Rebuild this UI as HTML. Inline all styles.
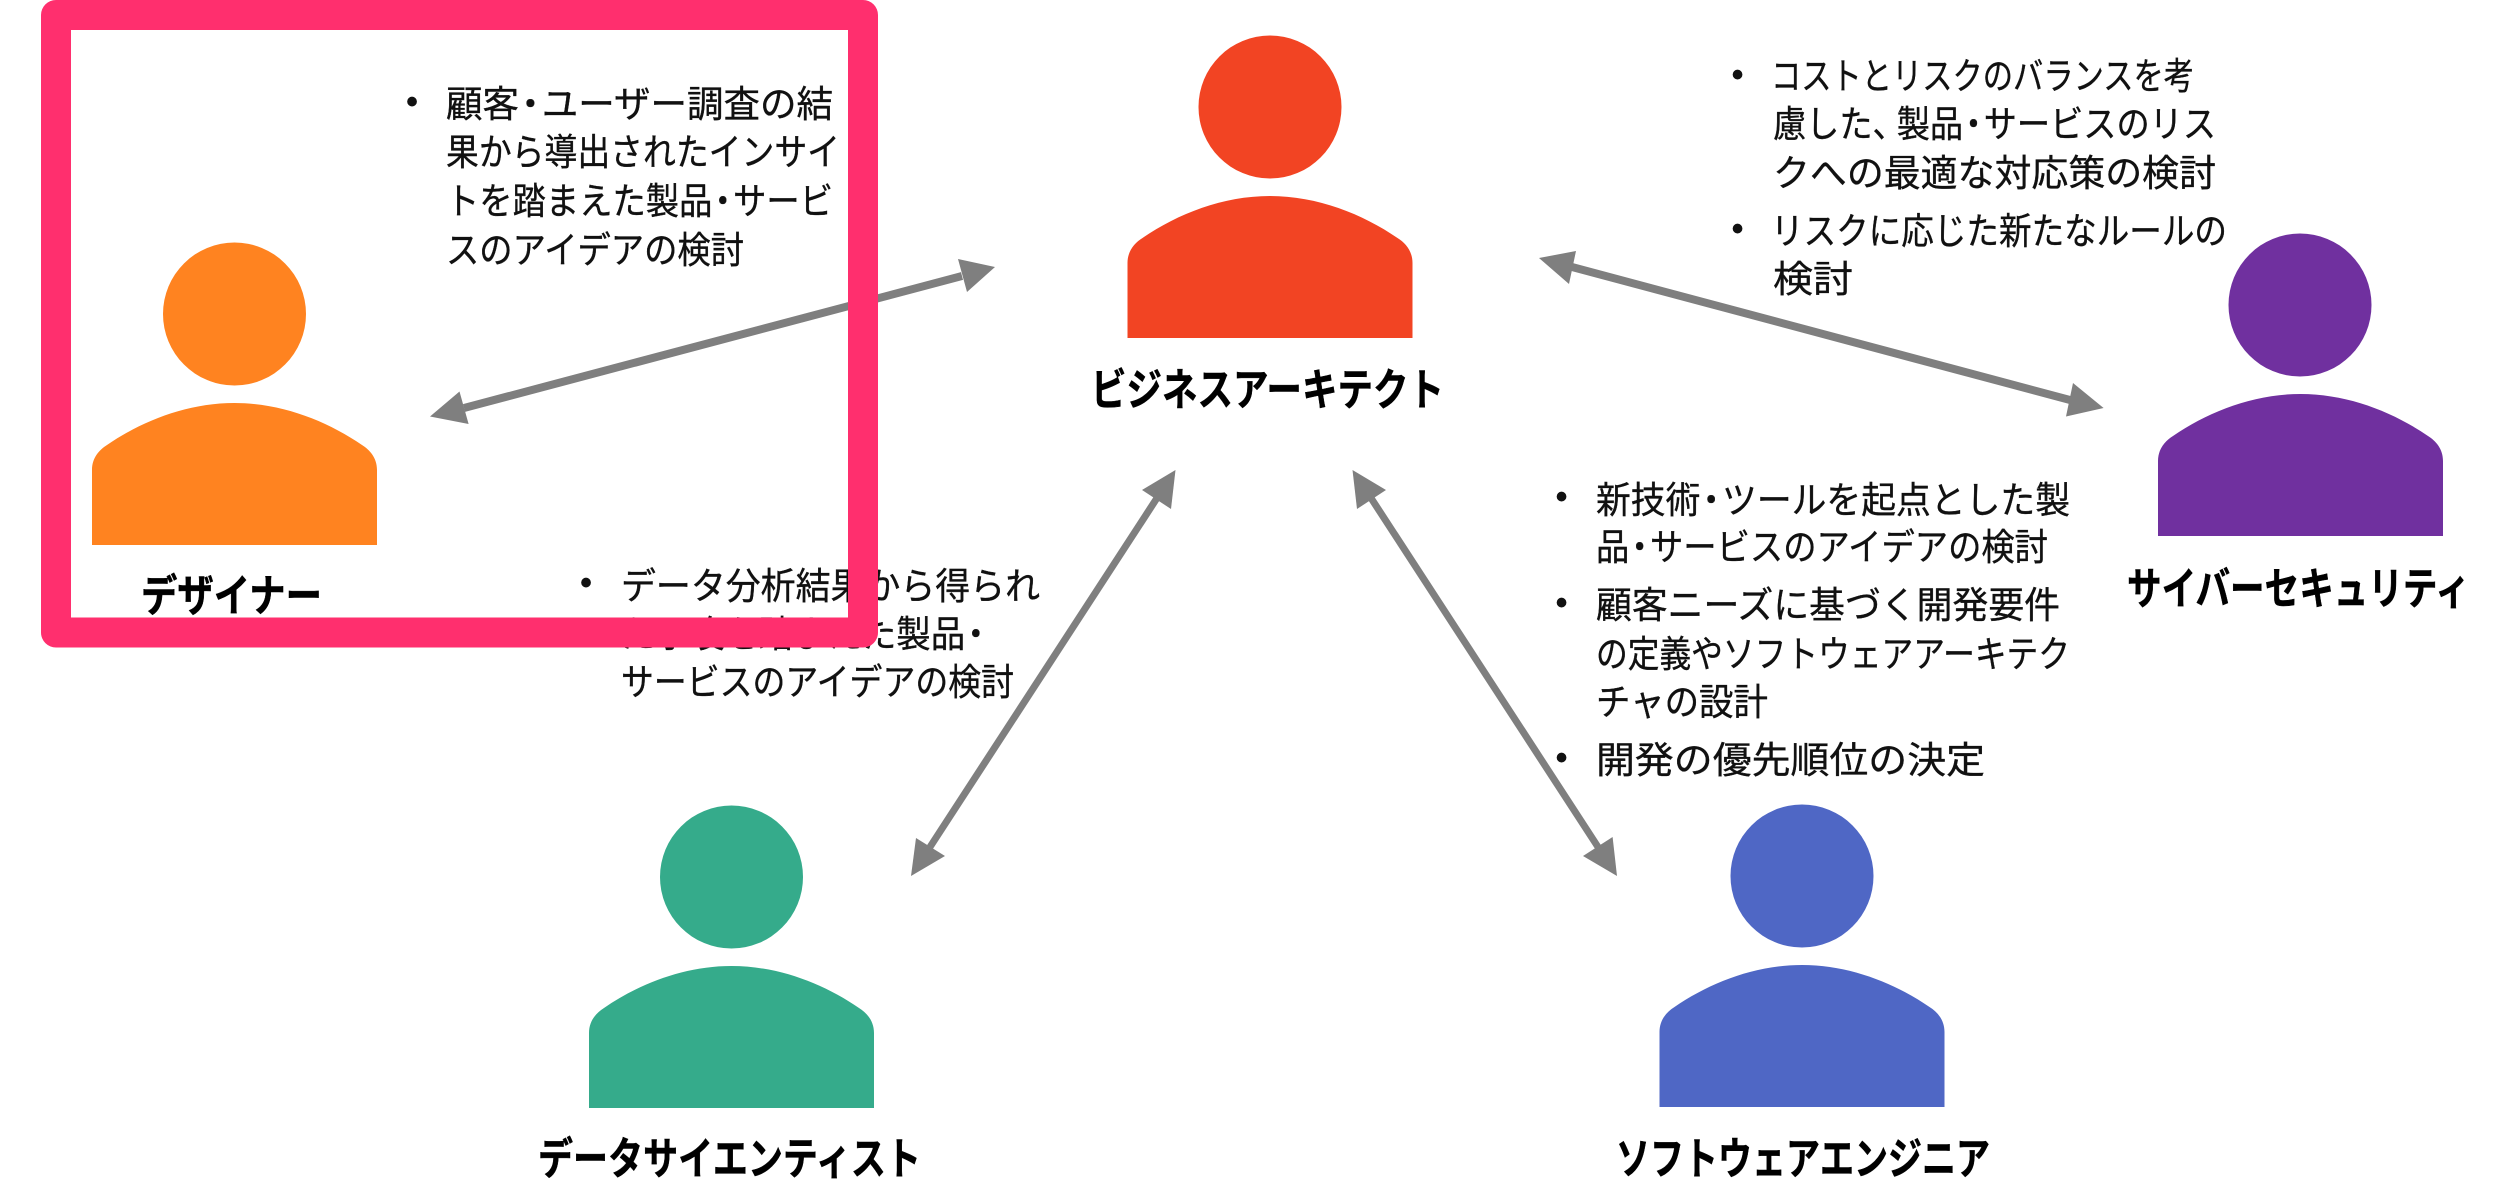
<!DOCTYPE html>
<html lang="ja"><head><meta charset="utf-8"><style>
html,body{margin:0;padding:0;background:#fff;width:2500px;height:1188px;overflow:hidden}
svg{display:block}
text{font-family:"Liberation Sans","Noto Sans CJK JP",sans-serif;fill:#111}
.t{font-size:37px;font-weight:400;stroke:#111;stroke-width:.35px}
.d{font-size:36px;font-weight:400}
.b{font-size:44px;font-weight:700;fill:#000;stroke:#000;stroke-width:.5px}
</style></head><body>
<svg width="2500" height="1188" viewBox="0 0 2500 1188" xmlns="http://www.w3.org/2000/svg">
<defs>
<path id="body" d="M0 142V67C0 55 7 47 15 42C50 18 95 0 142.5 0C190 0 235 18 270 42C278 47 285 55 285 67V142Z"/>
</defs>
<rect width="2500" height="1188" fill="#fff"/>

<!-- people -->
<g fill="#FF8320"><circle cx="234.5" cy="314" r="71.5"/><use href="#body" x="92" y="403"/></g>
<g fill="#F24423"><circle cx="1270" cy="107" r="71.5"/><use href="#body" x="1127.5" y="196"/></g>
<g fill="#70309F"><circle cx="2300" cy="305" r="71.5"/><use href="#body" x="2158" y="394"/></g>
<g fill="#35AB8B"><circle cx="731.5" cy="877" r="71.5"/><use href="#body" x="589" y="966"/></g>
<g fill="#4F67C5"><circle cx="1802" cy="876" r="71.5"/><use href="#body" x="1659.5" y="965"/></g>

<!-- arrows -->
<g stroke="#7F7F7F" fill="none">
<line x1="464" y1="408" x2="962" y2="276" stroke-width="8"/>
<line x1="1572" y1="267" x2="2070" y2="400" stroke-width="8"/>
<line x1="1157" y1="498" x2="930" y2="847" stroke-width="7"/>
<line x1="1371" y1="498" x2="1598" y2="847" stroke-width="7"/>
</g>
<g fill="#7F7F7F">
<polygon points="430,416.5 459.5,391.5 468.6,424"/>
<polygon points="995,267 958,259 967,292"/>
<polygon points="1539,258 1576,251 1569,284"/>
<polygon points="2103.6,408 2073,383 2066,416.5"/>
<polygon points="1175.5,470 1142,490 1171,509"/>
<polygon points="911,876 916,838 945,856"/>
<polygon points="1352.5,470 1386,490 1357,509"/>
<polygon points="1617,876 1583,856 1612.6,837"/>
</g>

<!-- designer text -->
<text class="d" x="412" y="104" text-anchor="middle" dominant-baseline="middle">•</text>
<text class="t" x="446" y="117" textLength="387" lengthAdjust="spacingAndGlyphs">顧客<tspan dx="-7">・</tspan><tspan dx="-7">ユーザー調査の結</tspan></text>
<text class="t" x="446" y="165" textLength="394" lengthAdjust="spacingAndGlyphs">果から導出されたインサイ</text>
<text class="t" x="446" y="214" textLength="387" lengthAdjust="spacingAndGlyphs">トを踏まえた製品<tspan dx="-7">・</tspan><tspan dx="-7">サービ</tspan></text>
<text class="t" x="446" y="263" textLength="298" lengthAdjust="spacingAndGlyphs">スのアイデアの検討</text>

<!-- data scientist text -->
<text class="d" x="586" y="585" text-anchor="middle" dominant-baseline="middle">•</text>
<text class="t" x="621" y="599" textLength="419" lengthAdjust="spacingAndGlyphs">データ分析結果から得られ</text>
<text class="t" x="621" y="647" textLength="372" lengthAdjust="spacingAndGlyphs">た示唆を踏まえた製品<tspan dx="-7">・</tspan></text>
<text class="t" x="621" y="695" textLength="393" lengthAdjust="spacingAndGlyphs">サービスのアイデアの検討</text>

<!-- cyber text -->
<text class="d" x="1737.5" y="77" text-anchor="middle" dominant-baseline="middle">•</text>
<text class="t" x="1771" y="89" textLength="423" lengthAdjust="spacingAndGlyphs">コストとリスクのバランスを考</text>
<text class="t" x="1773" y="137" textLength="443" lengthAdjust="spacingAndGlyphs">慮した、<tspan dx="-10">製品</tspan><tspan dx="-7">・</tspan><tspan dx="-7">サービスのリス</tspan></text>
<text class="t" x="1773" y="186" textLength="443" lengthAdjust="spacingAndGlyphs">クへの最適な対応策の検討</text>
<text class="d" x="1737.5" y="231" text-anchor="middle" dominant-baseline="middle">•</text>
<text class="t" x="1771" y="244" textLength="456" lengthAdjust="spacingAndGlyphs">リスクに応じた新たなルールの</text>
<text class="t" x="1773" y="292" textLength="80" lengthAdjust="spacingAndGlyphs">検討</text>

<!-- engineer text -->
<text class="d" x="1561.5" y="499" text-anchor="middle" dominant-baseline="middle">•</text>
<text class="t" x="1596" y="513" textLength="474" lengthAdjust="spacingAndGlyphs">新技術<tspan dx="-7">・</tspan><tspan dx="-7">ツールを起点とした製</tspan></text>
<text class="t" x="1596" y="560" textLength="452" lengthAdjust="spacingAndGlyphs">品<tspan dx="-7">・</tspan><tspan dx="-7">サービスのアイデアの検討</tspan></text>
<text class="d" x="1561.5" y="605" text-anchor="middle" dominant-baseline="middle">•</text>
<text class="t" x="1596" y="618" textLength="464" lengthAdjust="spacingAndGlyphs">顧客ニーズに基づく開発要件</text>
<text class="t" x="1596" y="667" textLength="474" lengthAdjust="spacingAndGlyphs">の定義やソフトウェアアーキテク</text>
<text class="t" x="1596" y="715" textLength="172" lengthAdjust="spacingAndGlyphs">チャの設計</text>
<text class="d" x="1561.5" y="760" text-anchor="middle" dominant-baseline="middle">•</text>
<text class="t" x="1596" y="773" textLength="389" lengthAdjust="spacingAndGlyphs">開発の優先順位の決定</text>

<!-- role labels -->
<text class="b" x="141" y="611" textLength="181" lengthAdjust="spacingAndGlyphs">デザイナー</text>
<text class="b" x="1091" y="405" textLength="353" lengthAdjust="spacingAndGlyphs">ビジネスアーキテクト</text>
<text class="b" x="2127" y="604" textLength="343" lengthAdjust="spacingAndGlyphs">サイバーセキュリティ</text>
<text class="b" x="538" y="1174" textLength="383" lengthAdjust="spacingAndGlyphs">データサイエンティスト</text>
<text class="b" x="1616" y="1174" textLength="374" lengthAdjust="spacingAndGlyphs">ソフトウェアエンジニア</text>

<!-- highlight frame -->
<rect x="56" y="15" width="807" height="617.5" fill="none" stroke="#FF2F6E" stroke-width="30" stroke-linejoin="round"/>
</svg>
</body></html>
